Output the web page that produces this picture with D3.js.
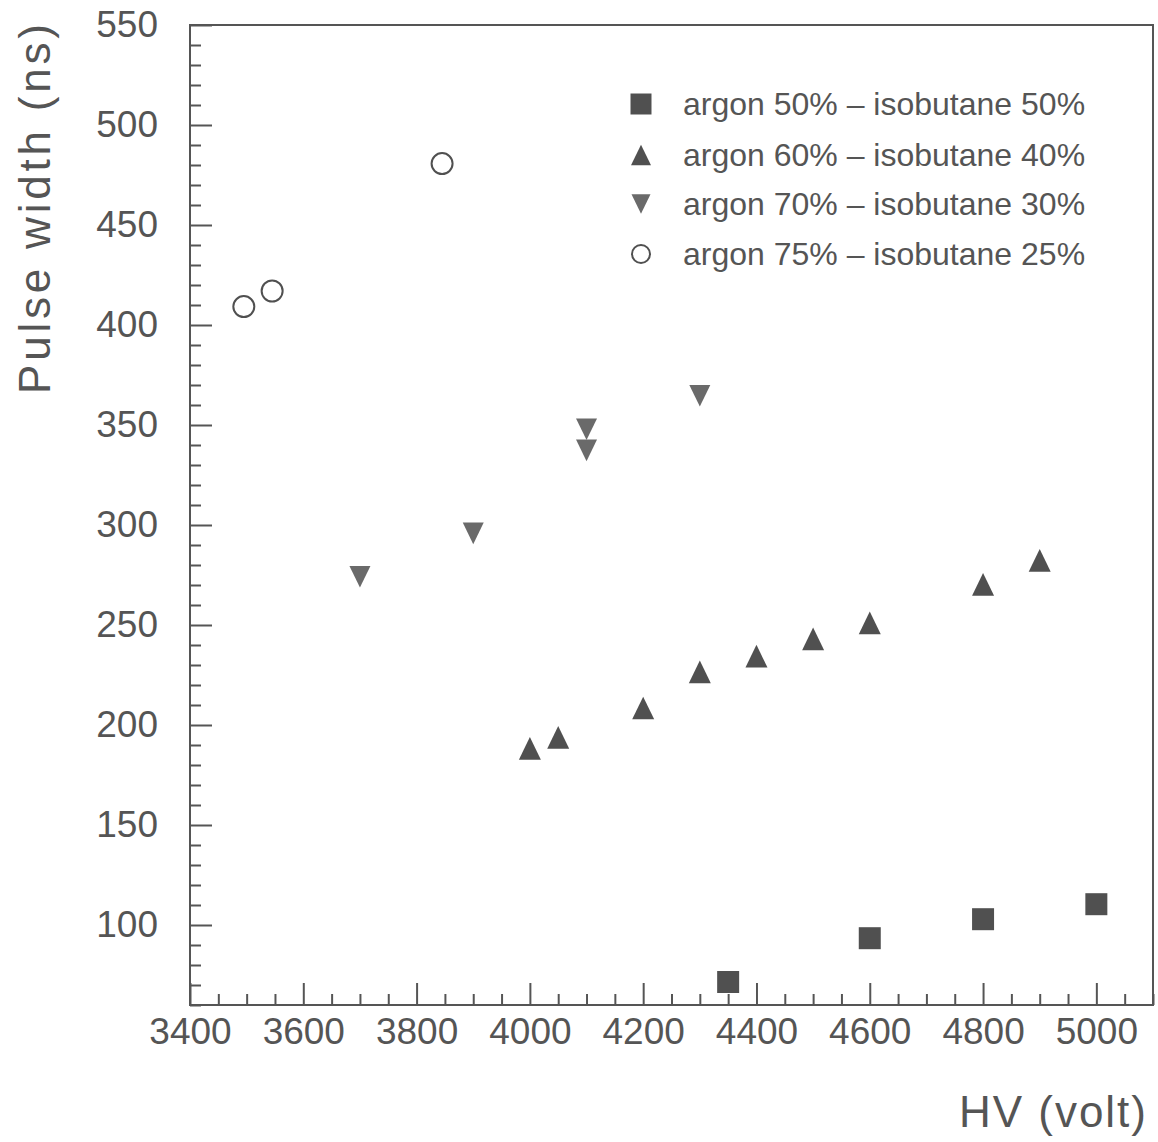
<!DOCTYPE html>
<html>
<head>
<meta charset="utf-8">
<script src="https://cdn.jsdelivr.net/npm/d3@7"></script>
<style>
  html, body { margin: 0; padding: 0; background: #fff; }
  svg { display: block; }
  text { font-family: "Liberation Sans", Arial, sans-serif; fill: #555; }
</style>
</head>
<body>
<script>
// Pulse width versus high voltage for four argon / isobutane mixtures
const hv50 = [4350, 4600, 4800, 5000];
const width50 = [71.5, 93.4, 102.9, 110.4];

const hv60 = [4000, 4050, 4200, 4300, 4400, 4500, 4600, 4800, 4900];
const width60 = [188.3, 193.8, 208.5, 226.6, 234.4, 243.1, 251.1, 270.3, 282.3];

const hv70 = [3700, 3900, 4100, 4100, 4300];
const width70 = [274.1, 295.8, 347.9, 337.3, 364.6];

const hv75 = [3495, 3545, 3845];
const width75 = [409.2, 417.0, 480.7];

const seriesNames = [
  "argon 50% – isobutane 50%",
  "argon 60% – isobutane 40%",
  "argon 70% – isobutane 30%",
  "argon 75% – isobutane 25%"
];

const xMajorTicks = [3400, 3600, 3800, 4000, 4200, 4400, 4600, 4800, 5000];
const yMajorTicks = [100, 150, 200, 250, 300, 350, 400, 450, 500, 550];

const xTitle = "HV (volt)";
const yTitle = "Pulse width (ns)";

// ---------------------------------------------------------------
const W = 1158, H = 1142;
const ink = "#555";
const markInk = "#505050";

const svg = d3.select("body").append("svg")
  .attr("width", W).attr("height", H);

const x = d3.scaleLinear().domain([3400, 5100]).range([190, 1153]);
const y = d3.scaleLinear().domain([60, 550]).range([1005, 25]);

const xMinor = d3.range(3400, 5100 + 1, 50).filter(v => !xMajorTicks.includes(v));
const yMinor = d3.range(60, 550 + 1, 10).filter(v => !yMajorTicks.includes(v));

// bottom axis: inward ticks
const gx = svg.append("g").attr("transform", `translate(0,${y.range()[0]})`);
gx.append("g").call(d3.axisBottom(x).tickValues(xMinor).tickSize(-11).tickFormat(""));
gx.append("g").call(d3.axisBottom(x).tickValues(xMajorTicks).tickSize(-22).tickPadding(13)
  .tickFormat(d3.format("d")));

// left axis: inward ticks
const gy = svg.append("g").attr("transform", `translate(${x.range()[0]},0)`);
gy.append("g").call(d3.axisLeft(y).tickValues(yMinor).tickSize(-11).tickFormat(""));
gy.append("g").call(d3.axisLeft(y).tickValues(yMajorTicks).tickSize(-22).tickPadding(32)
  .tickFormat(d3.format("d")));

svg.selectAll(".domain").remove();
svg.selectAll(".tick line").attr("stroke", ink).attr("stroke-width", 2);
svg.selectAll(".tick text")
  .attr("fill", ink)
  .style("font-size", "37px")
  .style("font-family", "'Liberation Sans', Arial, sans-serif");

// frame
svg.append("rect")
  .attr("x", x.range()[0]).attr("y", y.range()[1])
  .attr("width", x.range()[1] - x.range()[0])
  .attr("height", y.range()[0] - y.range()[1])
  .attr("fill", "none").attr("stroke", ink).attr("stroke-width", 2);

// axis titles
svg.append("text")
  .attr("x", 1148).attr("y", 1127)
  .attr("text-anchor", "end")
  .style("font-size", "44px")
  .style("letter-spacing", "2px")
  .text(xTitle);

svg.append("text")
  .attr("transform", "translate(50,394) rotate(-90)")
  .attr("text-anchor", "start")
  .style("font-size", "44px")
  .style("letter-spacing", "3.8px")
  .text(yTitle);

// marker shapes, centred on their bounding boxes
const triUp = {
  draw(ctx, size) {
    const w = Math.sqrt(size), h = w * 1.03;
    ctx.moveTo(0, -h / 2); ctx.lineTo(w / 2, h / 2); ctx.lineTo(-w / 2, h / 2); ctx.closePath();
  }
};
const triDown = {
  draw(ctx, size) {
    const w = Math.sqrt(size), h = w * 1.03;
    ctx.moveTo(0, h / 2); ctx.lineTo(w / 2, -h / 2); ctx.lineTo(-w / 2, -h / 2); ctx.closePath();
  }
};

const series = [
  { xs: hv50, ys: width50, type: d3.symbolSquare, size: 22 * 22, fill: markInk, stroke: "none" },
  { xs: hv60, ys: width60, type: triUp, size: 22 * 22, fill: markInk, stroke: "none" },
  { xs: hv70, ys: width70, type: triDown, size: 21 * 21, fill: "#6a6a6a", stroke: "none" },
  { xs: hv75, ys: width75, type: d3.symbolCircle, size: Math.PI * 10.5 * 10.5, fill: "none", stroke: markInk }
];

const plot = svg.append("g");
series.forEach(s => {
  const pts = s.xs.map((v, i) => ({ hv: v, w: s.ys[i] }));
  plot.append("g").selectAll("path").data(pts).join("path")
    .attr("transform", d => `translate(${x(d.hv)},${y(d.w)})`)
    .attr("d", d3.symbol().type(s.type).size(s.size))
    .attr("fill", s.fill)
    .attr("stroke", s.stroke)
    .attr("stroke-width", 2);
});

// legend
const legendRowY = [104, 155, 204, 254];
const legendSizes = [21 * 21, 20 * 20, 19 * 19, Math.PI * 9 * 9];
const legend = svg.append("g");
series.forEach((s, i) => {
  legend.append("path")
    .attr("transform", `translate(641,${legendRowY[i]})`)
    .attr("d", d3.symbol().type(s.type).size(legendSizes[i]))
    .attr("fill", s.fill)
    .attr("stroke", s.stroke)
    .attr("stroke-width", 2);
  legend.append("text")
    .attr("x", 683).attr("y", legendRowY[i] + 11)
    .style("font-size", "32px")
    .text(seriesNames[i]);
});
</script>
</body>
</html>
